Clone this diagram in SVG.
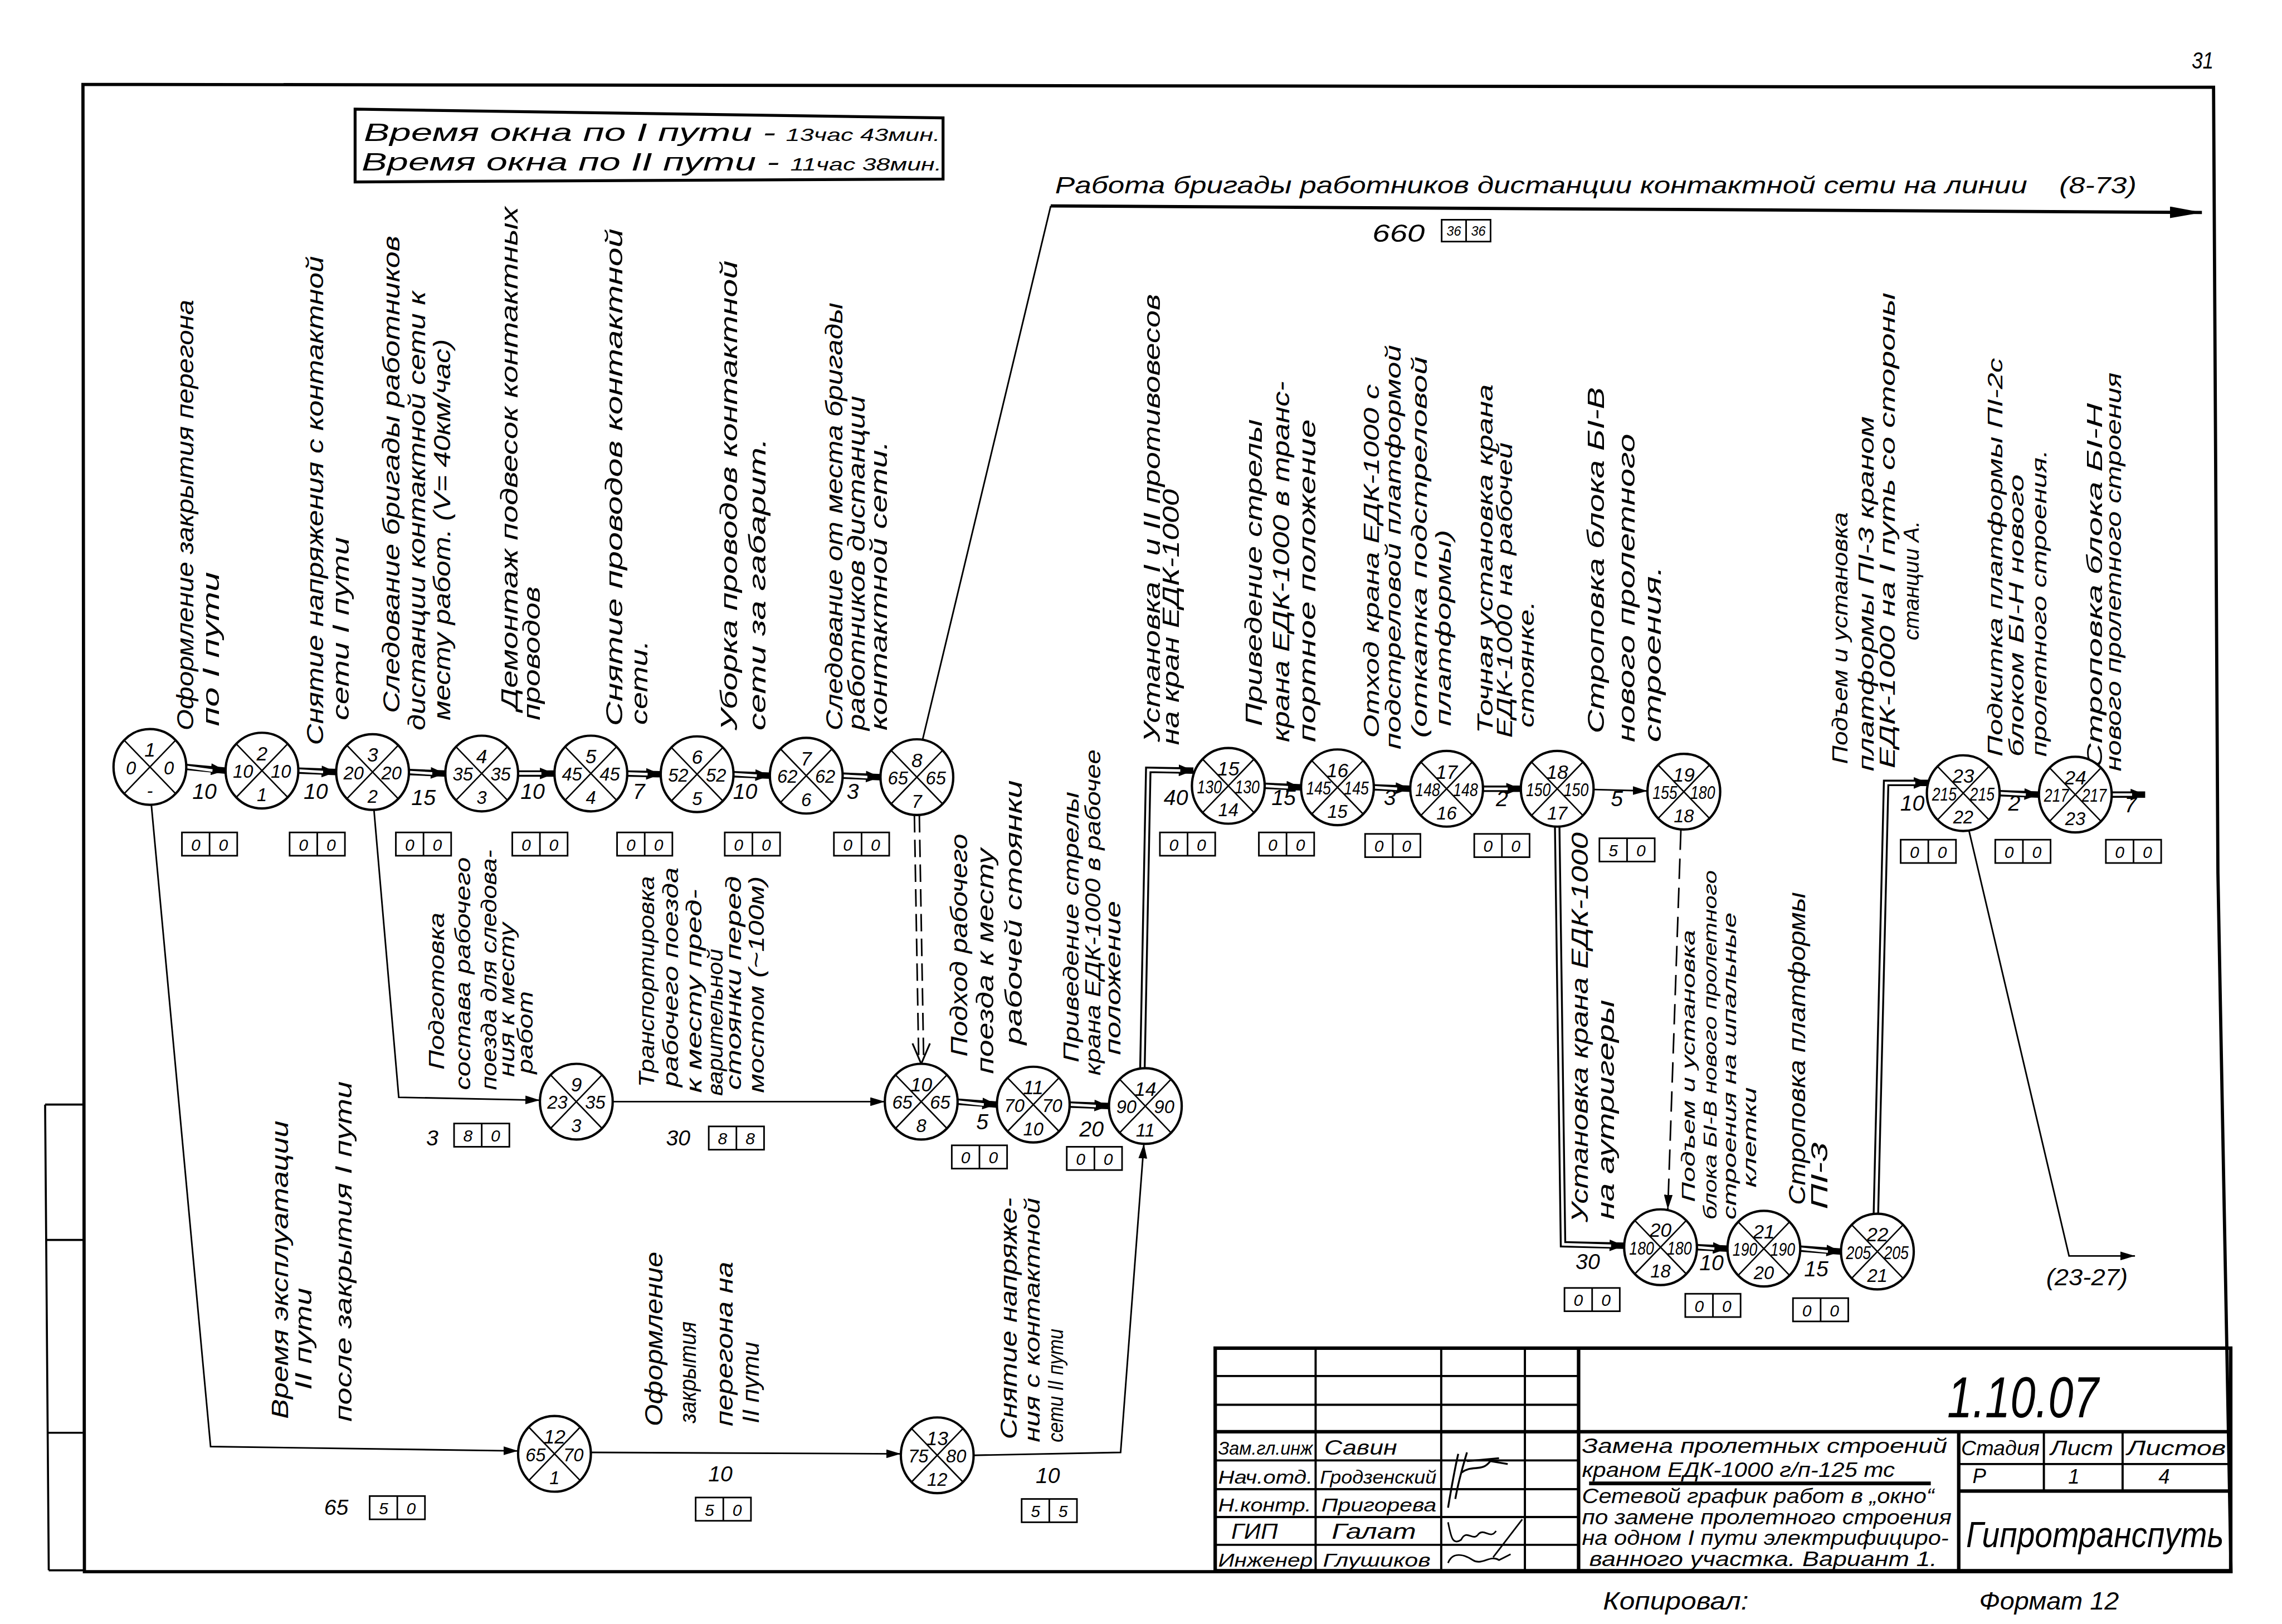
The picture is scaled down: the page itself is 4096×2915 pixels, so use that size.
<svg xmlns="http://www.w3.org/2000/svg" width="4096" height="2915" viewBox="0 0 4096 2915">
<style>
.t{font-family:'Liberation Sans',Arial,sans-serif;font-style:italic;fill:#000}
.s17{font-size:17px}.s16{font-size:16px}.s15{font-size:15px}.s14{font-size:14px}.s13{font-size:13px}.s12{font-size:12px}
.nn{font-size:12.5px;text-anchor:middle}
.nt{font-size:13.5px;text-anchor:middle}
.du{font-size:15px;text-anchor:middle}
.ln{fill:none;stroke:#000;stroke-width:1.1}
.dbo{fill:none;stroke:#000;stroke-width:4.4;stroke-linejoin:miter}
.dbi{fill:none;stroke:#fff;stroke-width:1.8;stroke-linejoin:miter}
.fr{fill:none;stroke:#000;stroke-width:2.2}
.tb{fill:none;stroke:#000;stroke-width:1.5}
.tbk{fill:none;stroke:#000;stroke-width:2.4}
</style>
<defs>
<marker id="ah" viewBox="0 0 10 6" refX="10" refY="3" markerWidth="10" markerHeight="6" markerUnits="userSpaceOnUse" orient="auto"><path d="M0,0 L10,3 L0,6 Z" fill="#000"/></marker>
<marker id="ahd" viewBox="0 0 10 8" refX="10" refY="4" markerWidth="11" markerHeight="8" markerUnits="userSpaceOnUse" orient="auto"><path d="M0,0 L10,4 L0,8 Z" fill="#000"/></marker>
<marker id="ahb" viewBox="0 0 22 8" refX="22" refY="4" markerWidth="22" markerHeight="8" markerUnits="userSpaceOnUse" orient="auto"><path d="M0,0 L22,4 L0,8 Z" fill="#000"/></marker>
<g id="ns"><ellipse rx="25" ry="26" fill="#fff" stroke="#000" stroke-width="1.6"/><path d="M-17.7,-18.4L17.7,18.4M17.7,-18.4L-17.7,18.4" stroke="#000" stroke-width="1" fill="none"/></g>
<g id="bx"><rect width="38" height="16" fill="#fff" stroke="#000" stroke-width="1.1"/><path d="M19,0V16" stroke="#000" stroke-width="1.1"/></g>
<g id="b00"><use href="#bx"/><text x="9.5" y="12.5" font-family="'Liberation Sans',Arial,sans-serif" font-style="italic" font-size="11.5" text-anchor="middle">0</text><text x="28.5" y="12.5" font-family="'Liberation Sans',Arial,sans-serif" font-style="italic" font-size="11.5" text-anchor="middle">0</text></g>
</defs>
<rect width="4096" height="2915" fill="#fff"/>
<g transform="scale(2.6122)">

<g id="frame">
<path class="fr" d="M57,58 L1521,60 L1524,600 L1533,1080 L58,1080 Z"/>
<path d="M31,759 H57 M31,759 L33.5,1079 M31.5,852 H57 M32.5,984.5 H57 M33.5,1079 H58" fill="none" stroke="#000" stroke-width="1.4"/>
<text class="t s16" x="1506" y="47" textLength="15" lengthAdjust="spacingAndGlyphs">31</text>
</g>

<g id="window-box">
<path d="M244,75 L648,81 L648,123 L244,125 Z" fill="none" stroke="#000" stroke-width="2"/>
<text class="t s17" x="250" y="97" textLength="283" lengthAdjust="spacingAndGlyphs">Время  окна  по  I  пути  -</text>
<text class="t s12" x="540" y="97" textLength="106" lengthAdjust="spacingAndGlyphs">13час 43мин.</text>
<text class="t s17" x="248.5" y="117" textLength="287" lengthAdjust="spacingAndGlyphs">Время  окна  по  II  пути  -</text>
<text class="t s12" x="543" y="117" textLength="104" lengthAdjust="spacingAndGlyphs">11час 38мин.</text>
</g>

<g id="connectors">
<path class="dbo" marker-end="url(#ahd)" d="M128,527 L155,529.5"/><path class="dbi" d="M128,527 L146,529.5"/>
<path class="dbo" marker-end="url(#ahd)" d="M205,529.5 L231,530.5"/><path class="dbi" d="M205,529.5 L222,530.5"/>
<path class="dbo" marker-end="url(#ahd)" d="M281,530.5 L306,531.5"/><path class="dbi" d="M281,530.5 L297,531.5"/>
<path class="dbo" marker-end="url(#ahd)" d="M356,531.5 L381,531.5"/><path class="dbi" d="M356,531.5 L372,531.5"/>
<path class="dbo" marker-end="url(#ahd)" d="M431,531.5 L454,532"/><path class="dbi" d="M431,531.5 L445,532"/>
<path class="dbo" marker-end="url(#ahd)" d="M504,532 L529,533"/><path class="dbi" d="M504,532 L520,533"/>
<path class="dbo" marker-end="url(#ahd)" d="M579,533 L605,534"/><path class="dbi" d="M579,533 L596,534"/>
<path class="dbo" marker-end="url(#ahd)" d="M658,757 L685,759"/><path class="dbi" d="M658,757 L676,759"/>
<path class="dbo" marker-end="url(#ahd)" d="M735,759 L762,760"/><path class="dbi" d="M735,759 L753,760"/>
<path class="dbo" marker-end="url(#ahd)" d="M785,734 L789,529 L820,529.5"/><path class="dbi" d="M785,734 L789,529 L811,529.5"/>
<path class="dbo" marker-end="url(#ahd)" d="M869,540 L894,541"/><path class="dbi" d="M869,540 L885,541"/>
<path class="dbo" marker-end="url(#ahd)" d="M944,541 L969,542"/><path class="dbi" d="M944,541 L960,542"/>
<path class="dbo" marker-end="url(#ahd)" d="M1019,542 L1045,542"/><path class="dbi" d="M1019,542 L1036,542"/>
<path class="dbo" marker-end="url(#ahd)" d="M1070,568 L1074,855 L1116,856"/><path class="dbi" d="M1070,568 L1074,855 L1107,856"/>
<path class="dbo" marker-end="url(#ahd)" d="M1166,857 L1187,858"/><path class="dbi" d="M1166,857 L1178,858"/>
<path class="dbo" marker-end="url(#ahd)" d="M1237,858 L1265,860"/><path class="dbi" d="M1237,858 L1256,860"/>
<path class="dbo" marker-end="url(#ahd)" d="M1289,834 L1296,538 L1325,538"/><path class="dbi" d="M1289,834 L1296,538 L1316,538"/>
<path class="dbo" marker-end="url(#ahd)" d="M1374,545 L1401,546"/><path class="dbi" d="M1374,545 L1392,546"/>
<path class="dbo" marker-end="url(#ahd)" d="M1451,546 L1474,546"/><path class="dbi" d="M1451,546 L1465,546"/>
<path d="M628.3,560 L631.3,729 M631.7,560 L634.7,729" fill="none" stroke="#000" stroke-width="1.1" stroke-dasharray="12 5"/>
<path d="M627,717 L633,731 L639,717" fill="none" stroke="#000" stroke-width="1.2"/>
<path class="ln" marker-end="url(#ah)" d="M104,553 L144.7,994 L356,997"/>
<path class="ln" marker-end="url(#ah)" d="M257,557 L274,754 L371,756"/>
<path class="ln" marker-end="url(#ah)" d="M421,757 L608,757"/>
<path class="ln" marker-end="url(#ah)" d="M406,998 L619,999"/>
<path class="ln" marker-end="url(#ah)" d="M669,1000 L770,998 L786,786"/>
<path class="ln" marker-end="url(#ah)" d="M1095,542.5 L1132,543.5"/>
<path class="ln" marker-end="url(#ah)" stroke-dasharray="14 6" d="M1155,570 L1146,831"/>
<path class="ln" marker-end="url(#ah)" d="M1353,571 L1421.7,863 L1467,863"/>
<path class="ln" d="M634,508 L722,141.5"/>
<path fill="none" stroke="#000" stroke-width="2.2" marker-end="url(#ahb)" d="M722,141.5 L1513,146"/>
</g>

<g id="edge-labels">
<text class="t s16" x="725" y="133" textLength="668" lengthAdjust="spacingAndGlyphs">Работа бригады работников дистанции контактной сети на линии</text>
<text class="t s16" x="1415" y="133" textLength="53" lengthAdjust="spacingAndGlyphs">(8-73)</text>
<text class="t s17" x="943" y="166" textLength="36" lengthAdjust="spacingAndGlyphs">660</text>
<g transform="translate(990.6,151)"><rect width="33.6" height="15" fill="#fff" stroke="#000" stroke-width="1.1"/><path d="M16.8,0V15" stroke="#000" stroke-width="1.1"/><text class="t" font-size="9" x="8.4" y="11" text-anchor="middle">36</text><text class="t" font-size="9" x="25.2" y="11" text-anchor="middle">36</text></g>
<text class="t s16" x="1406" y="883" textLength="56" lengthAdjust="spacingAndGlyphs">(23-27)</text>
<text class="t du" x="140.5" y="549">10</text>
<text class="t du" x="217" y="549">10</text>
<text class="t du" x="291" y="553">15</text>
<text class="t du" x="366" y="549">10</text>
<text class="t du" x="439" y="549">7</text>
<text class="t du" x="512" y="549">10</text>
<text class="t du" x="586" y="549">3</text>
<text class="t du" x="808" y="553">40</text>
<text class="t du" x="882" y="553">15</text>
<text class="t du" x="955" y="553">3</text>
<text class="t du" x="1032" y="554">2</text>
<text class="t du" x="1111" y="554">5</text>
<text class="t du" x="1314" y="557">10</text>
<text class="t du" x="1384" y="557">2</text>
<text class="t du" x="1464" y="558">7</text>
<text class="t du" x="297" y="787">3</text>
<text class="t du" x="466" y="787">30</text>
<text class="t du" x="675" y="776">5</text>
<text class="t du" x="750" y="781">20</text>
<text class="t du" x="231" y="1041">65</text>
<text class="t du" x="495" y="1018">10</text>
<text class="t du" x="720" y="1019">10</text>
<text class="t du" x="1091" y="872">30</text>
<text class="t du" x="1176" y="873">10</text>
<text class="t du" x="1248" y="877">15</text>
<use href="#b00" x="125" y="572"/>
<use href="#b00" x="199" y="572"/>
<use href="#b00" x="272" y="572"/>
<use href="#b00" x="352" y="572"/>
<use href="#b00" x="424" y="572"/>
<use href="#b00" x="498" y="572"/>
<use href="#b00" x="573" y="572"/>
<use href="#b00" x="797" y="572"/>
<use href="#b00" x="865" y="572"/>
<use href="#b00" x="938" y="573"/>
<use href="#b00" x="1013" y="573"/>
<g transform="translate(1099,576)"><use href="#bx"/><text class="t" font-size="11.5" x="9.5" y="12.5" text-anchor="middle">5</text><text class="t" font-size="11.5" x="28.5" y="12.5" text-anchor="middle">0</text></g>
<use href="#b00" x="1306" y="577"/>
<use href="#b00" x="1371" y="577"/>
<use href="#b00" x="1447" y="577"/>
<g transform="translate(312,772)"><use href="#bx"/><text class="t" font-size="11.5" x="9.5" y="12.5" text-anchor="middle">8</text><text class="t" font-size="11.5" x="28.5" y="12.5" text-anchor="middle">0</text></g>
<g transform="translate(487,774)"><use href="#bx"/><text class="t" font-size="11.5" x="9.5" y="12.5" text-anchor="middle">8</text><text class="t" font-size="11.5" x="28.5" y="12.5" text-anchor="middle">8</text></g>
<use href="#b00" x="654" y="787"/>
<use href="#b00" x="733" y="788"/>
<g transform="translate(254,1028)"><use href="#bx"/><text class="t" font-size="11.5" x="9.5" y="12.5" text-anchor="middle">5</text><text class="t" font-size="11.5" x="28.5" y="12.5" text-anchor="middle">0</text></g>
<g transform="translate(478,1029)"><use href="#bx"/><text class="t" font-size="11.5" x="9.5" y="12.5" text-anchor="middle">5</text><text class="t" font-size="11.5" x="28.5" y="12.5" text-anchor="middle">0</text></g>
<g transform="translate(702,1030)"><use href="#bx"/><text class="t" font-size="11.5" x="9.5" y="12.5" text-anchor="middle">5</text><text class="t" font-size="11.5" x="28.5" y="12.5" text-anchor="middle">5</text></g>
<use href="#b00" x="1075" y="885"/>
<use href="#b00" x="1158" y="889"/>
<use href="#b00" x="1232" y="892"/>
</g>

<g id="activity-labels">
<text class="t s16" transform="translate(133,502) rotate(-90)" textLength="296" lengthAdjust="spacingAndGlyphs">Оформление закрытия перегона</text>
<text class="t s16" transform="translate(150.5,499) rotate(-90)" textLength="106" lengthAdjust="spacingAndGlyphs">по I пути</text>
<text class="t s16" transform="translate(222,512) rotate(-90)" textLength="336" lengthAdjust="spacingAndGlyphs">Снятие напряжения с контактной</text>
<text class="t s16" transform="translate(239.5,495) rotate(-90)" textLength="126" lengthAdjust="spacingAndGlyphs">сети I пути</text>
<text class="t s16" transform="translate(274.5,490) rotate(-90)" textLength="328" lengthAdjust="spacingAndGlyphs">Следование бригады работников</text>
<text class="t s16" transform="translate(292,502) rotate(-90)" textLength="302" lengthAdjust="spacingAndGlyphs">дистанции контактной сети к</text>
<text class="t s16" transform="translate(309.5,495) rotate(-90)" textLength="262" lengthAdjust="spacingAndGlyphs">месту работ. (V= 40км/час)</text>
<text class="t s16" transform="translate(355.5,488) rotate(-90)" textLength="346" lengthAdjust="spacingAndGlyphs">Демонтаж подвесок контактных</text>
<text class="t s16" transform="translate(371,495) rotate(-90)" textLength="92" lengthAdjust="spacingAndGlyphs">проводов</text>
<text class="t s16" transform="translate(427.5,499) rotate(-90)" textLength="342" lengthAdjust="spacingAndGlyphs">Снятие проводов контактной</text>
<text class="t s16" transform="translate(445,498) rotate(-90)" textLength="58" lengthAdjust="spacingAndGlyphs">сети.</text>
<text class="t s16" transform="translate(506.5,502) rotate(-90)" textLength="323" lengthAdjust="spacingAndGlyphs">Уборка проводов контактной</text>
<text class="t s16" transform="translate(526,502) rotate(-90)" textLength="201" lengthAdjust="spacingAndGlyphs">сети за габарит.</text>
<text class="t s16" transform="translate(579,502) rotate(-90)" textLength="294" lengthAdjust="spacingAndGlyphs">Следование от места бригады</text>
<text class="t s16" transform="translate(594,502) rotate(-90)" textLength="230" lengthAdjust="spacingAndGlyphs">работников дистанции</text>
<text class="t s16" transform="translate(609.5,502) rotate(-90)" textLength="199" lengthAdjust="spacingAndGlyphs">контактной сети.</text>

<text class="t s16" transform="translate(797,510) rotate(-90)" textLength="308" lengthAdjust="spacingAndGlyphs">Установка I и II противовесов</text>
<text class="t s16" transform="translate(810,512) rotate(-90)" textLength="176" lengthAdjust="spacingAndGlyphs">на кран ЕДК-1000</text>
<text class="t s16" transform="translate(867,499) rotate(-90)" textLength="211" lengthAdjust="spacingAndGlyphs">Приведение стрелы</text>
<text class="t s16" transform="translate(886,510) rotate(-90)" textLength="248" lengthAdjust="spacingAndGlyphs">крана ЕДК-1000 в транс-</text>
<text class="t s16" transform="translate(904,510) rotate(-90)" textLength="222" lengthAdjust="spacingAndGlyphs">портное положение</text>
<text class="t s15" transform="translate(947.5,507) rotate(-90)" textLength="243" lengthAdjust="spacingAndGlyphs">Отход крана ЕДК-1000 с</text>
<text class="t s15" transform="translate(962.5,515) rotate(-90)" textLength="278" lengthAdjust="spacingAndGlyphs">подстреловой платформой</text>
<text class="t s15" transform="translate(980.5,507) rotate(-90)" textLength="262" lengthAdjust="spacingAndGlyphs">(откатка подстреловой</text>
<text class="t s15" transform="translate(997,499) rotate(-90)" textLength="135" lengthAdjust="spacingAndGlyphs">платформы)</text>
<text class="t s15" transform="translate(1025.5,504) rotate(-90)" textLength="240" lengthAdjust="spacingAndGlyphs">Точная установка крана</text>
<text class="t s15" transform="translate(1039,507) rotate(-90)" textLength="203" lengthAdjust="spacingAndGlyphs">ЕДК-1000 на рабочей</text>
<text class="t s15" transform="translate(1054,500) rotate(-90)" textLength="87" lengthAdjust="spacingAndGlyphs">стоянке.</text>
<text class="t s16" transform="translate(1102,504) rotate(-90)" textLength="238" lengthAdjust="spacingAndGlyphs">Строповка блока БI-В</text>
<text class="t s16" transform="translate(1123,510) rotate(-90)" textLength="212" lengthAdjust="spacingAndGlyphs">нового пролетного</text>
<text class="t s16" transform="translate(1141,510) rotate(-90)" textLength="121" lengthAdjust="spacingAndGlyphs">строения.</text>
<text class="t s15" transform="translate(1269.5,525) rotate(-90)" textLength="173" lengthAdjust="spacingAndGlyphs">Подъем и установка</text>
<text class="t s15" transform="translate(1287.5,530) rotate(-90)" textLength="244" lengthAdjust="spacingAndGlyphs">платформы ПI-3 краном</text>
<text class="t s15" transform="translate(1302,528) rotate(-90)" textLength="327" lengthAdjust="spacingAndGlyphs">ЕДК-1000 на I путь со стороны</text>
<text class="t s15" transform="translate(1318.5,440) rotate(-90)" textLength="82" lengthAdjust="spacingAndGlyphs">станции А.</text>
<text class="t s14" transform="translate(1376,520) rotate(-90)" textLength="274" lengthAdjust="spacingAndGlyphs">Подкитка платформы ПI-2с</text>
<text class="t s14" transform="translate(1390.5,520) rotate(-90)" textLength="194" lengthAdjust="spacingAndGlyphs">блоком БI-Н нового</text>
<text class="t s14" transform="translate(1406,520) rotate(-90)" textLength="211" lengthAdjust="spacingAndGlyphs">пролетного строения.</text>
<text class="t s15" transform="translate(1444.5,528) rotate(-90)" textLength="251" lengthAdjust="spacingAndGlyphs">Строповка блока БI-Н</text>
<text class="t s15" transform="translate(1457.5,530) rotate(-90)" textLength="274" lengthAdjust="spacingAndGlyphs">нового пролетного строения</text>

<text class="t s15" transform="translate(305,735) rotate(-90)" textLength="108" lengthAdjust="spacingAndGlyphs">Подготовка</text>
<text class="t s15" transform="translate(323,749) rotate(-90)" textLength="160" lengthAdjust="spacingAndGlyphs">состава рабочего</text>
<text class="t s15" transform="translate(341,749) rotate(-90)" textLength="165" lengthAdjust="spacingAndGlyphs">поезда для следова-</text>
<text class="t s15" transform="translate(353.5,740) rotate(-90)" textLength="106" lengthAdjust="spacingAndGlyphs">ния к месту</text>
<text class="t s15" transform="translate(366,738) rotate(-90)" textLength="57" lengthAdjust="spacingAndGlyphs">работ</text>
<text class="t s15" transform="translate(449.5,747) rotate(-90)" textLength="145" lengthAdjust="spacingAndGlyphs">Транспортировка</text>
<text class="t s15" transform="translate(466,747) rotate(-90)" textLength="151" lengthAdjust="spacingAndGlyphs">рабочего поезда</text>
<text class="t s15" transform="translate(482,751) rotate(-90)" textLength="140" lengthAdjust="spacingAndGlyphs">к месту пред-</text>
<text class="t s15" transform="translate(496.5,753) rotate(-90)" textLength="101" lengthAdjust="spacingAndGlyphs">варительной</text>
<text class="t s15" transform="translate(509,749) rotate(-90)" textLength="147" lengthAdjust="spacingAndGlyphs">стоянки перед</text>
<text class="t s15" transform="translate(525,751) rotate(-90)" textLength="149" lengthAdjust="spacingAndGlyphs">мостом (~100м)</text>
<text class="t s16" transform="translate(664.5,726) rotate(-90)" textLength="153" lengthAdjust="spacingAndGlyphs">Подход рабочего</text>
<text class="t s16" transform="translate(682.5,738) rotate(-90)" textLength="155" lengthAdjust="spacingAndGlyphs">поезда к месту</text>
<text class="t s16" transform="translate(702,718) rotate(-90)" textLength="182" lengthAdjust="spacingAndGlyphs">рабочей стоянки</text>
<text class="t s15" transform="translate(741,730) rotate(-90)" textLength="186" lengthAdjust="spacingAndGlyphs">Приведение стрелы</text>
<text class="t s15" transform="translate(756,739) rotate(-90)" textLength="224" lengthAdjust="spacingAndGlyphs">крана ЕДК-1000 в рабочее</text>
<text class="t s15" transform="translate(770,725) rotate(-90)" textLength="106" lengthAdjust="spacingAndGlyphs">положение</text>

<text class="t s16" transform="translate(198,975) rotate(-90)" textLength="205" lengthAdjust="spacingAndGlyphs">Время эксплуатации</text>
<text class="t s16" transform="translate(214,955) rotate(-90)" textLength="70" lengthAdjust="spacingAndGlyphs">II пути</text>
<text class="t s16" transform="translate(241.5,977) rotate(-90)" textLength="234" lengthAdjust="spacingAndGlyphs">после закрытия I пути</text>
<text class="t s17" transform="translate(455,980) rotate(-90)" textLength="120" lengthAdjust="spacingAndGlyphs">Оформление</text>
<text class="t s16" transform="translate(478,978) rotate(-90)" textLength="70" lengthAdjust="spacingAndGlyphs">закрытия</text>
<text class="t s16" transform="translate(503.5,980) rotate(-90)" textLength="113" lengthAdjust="spacingAndGlyphs">перегона на</text>
<text class="t s16" transform="translate(521.5,978) rotate(-90)" textLength="56" lengthAdjust="spacingAndGlyphs">II пути</text>
<text class="t s16" transform="translate(698.5,989) rotate(-90)" textLength="166" lengthAdjust="spacingAndGlyphs">Снятие напряже-</text>
<text class="t s15" transform="translate(714.5,991) rotate(-90)" textLength="168" lengthAdjust="spacingAndGlyphs">ния с контактной</text>
<text class="t s15" transform="translate(730.5,991) rotate(-90)" textLength="78" lengthAdjust="spacingAndGlyphs">сети II пути</text>

<text class="t s16" transform="translate(1091,840) rotate(-90)" textLength="268" lengthAdjust="spacingAndGlyphs">Установка крана ЕДК-1000</text>
<text class="t s16" transform="translate(1109,838) rotate(-90)" textLength="151" lengthAdjust="spacingAndGlyphs">на аутригеры</text>
<text class="t s13" transform="translate(1164.5,826) rotate(-90)" textLength="187" lengthAdjust="spacingAndGlyphs">Подъем и установка</text>
<text class="t s13" transform="translate(1179.5,838) rotate(-90)" textLength="240" lengthAdjust="spacingAndGlyphs">блока БI-В нового пролетного</text>
<text class="t s13" transform="translate(1193,838) rotate(-90)" textLength="211" lengthAdjust="spacingAndGlyphs">строения на шпальные</text>
<text class="t s13" transform="translate(1206.5,816) rotate(-90)" textLength="69" lengthAdjust="spacingAndGlyphs">клетки</text>
<text class="t s16" transform="translate(1240.5,828) rotate(-90)" textLength="215" lengthAdjust="spacingAndGlyphs">Строповка платформы</text>
<text class="t s16" transform="translate(1255.5,831) rotate(-90)" textLength="46" lengthAdjust="spacingAndGlyphs">ПI-3</text>
</g>

<g id="nodes">
<g id="n1" transform="translate(103,527)"><use href="#ns"/><text class="t nt" y="-7">1</text><text class="t nn" x="-13" y="5">0</text><text class="t nn" x="13" y="5">0</text><text class="t nn" y="21">-</text></g>
<g id="n2" transform="translate(180,529.5)"><use href="#ns"/><text class="t nt" y="-7">2</text><text class="t nn" x="-13" y="5">10</text><text class="t nn" x="13" y="5">10</text><text class="t nn" y="21">1</text></g>
<g id="n3" transform="translate(256,530.5)"><use href="#ns"/><text class="t nt" y="-7">3</text><text class="t nn" x="-13" y="5">20</text><text class="t nn" x="13" y="5">20</text><text class="t nn" y="21">2</text></g>
<g id="n4" transform="translate(331,531.5)"><use href="#ns"/><text class="t nt" y="-7">4</text><text class="t nn" x="-13" y="5">35</text><text class="t nn" x="13" y="5">35</text><text class="t nn" y="21">3</text></g>
<g id="n5" transform="translate(406,531.5)"><use href="#ns"/><text class="t nt" y="-7">5</text><text class="t nn" x="-13" y="5">45</text><text class="t nn" x="13" y="5">45</text><text class="t nn" y="21">4</text></g>
<g id="n6" transform="translate(479,532)"><use href="#ns"/><text class="t nt" y="-7">6</text><text class="t nn" x="-13" y="5">52</text><text class="t nn" x="13" y="5">52</text><text class="t nn" y="21">5</text></g>
<g id="n7" transform="translate(554,533)"><use href="#ns"/><text class="t nt" y="-7">7</text><text class="t nn" x="-13" y="5">62</text><text class="t nn" x="13" y="5">62</text><text class="t nn" y="21">6</text></g>
<g id="n8" transform="translate(630,534)"><use href="#ns"/><text class="t nt" y="-7">8</text><text class="t nn" x="-13" y="5">65</text><text class="t nn" x="13" y="5">65</text><text class="t nn" y="21">7</text></g>
<g id="n9" transform="translate(396,757)"><use href="#ns"/><text class="t nt" y="-7">9</text><text class="t nn" x="-13" y="5">23</text><text class="t nn" x="13" y="5">35</text><text class="t nn" y="21">3</text></g>
<g id="n10" transform="translate(633,757)"><use href="#ns"/><text class="t nt" y="-7">10</text><text class="t nn" x="-13" y="5">65</text><text class="t nn" x="13" y="5">65</text><text class="t nn" y="21">8</text></g>
<g id="n11" transform="translate(710,759)"><use href="#ns"/><text class="t nt" y="-7">11</text><text class="t nn" x="-13" y="5">70</text><text class="t nn" x="13" y="5">70</text><text class="t nn" y="21">10</text></g>
<g id="n12" transform="translate(381,999)"><use href="#ns"/><text class="t nt" y="-7">12</text><text class="t nn" x="-13" y="5">65</text><text class="t nn" x="13" y="5">70</text><text class="t nn" y="21">1</text></g>
<g id="n13" transform="translate(644,1000)"><use href="#ns"/><text class="t nt" y="-7">13</text><text class="t nn" x="-13" y="5">75</text><text class="t nn" x="13" y="5">80</text><text class="t nn" y="21">12</text></g>
<g id="n14" transform="translate(787,760)"><use href="#ns"/><text class="t nt" y="-7">14</text><text class="t nn" x="-13" y="5">90</text><text class="t nn" x="13" y="5">90</text><text class="t nn" y="21">11</text></g>
<g id="n15" transform="translate(844,540)"><use href="#ns"/><text class="t nt" y="-7">15</text><text class="t nn" x="-13" y="5" textLength="17" lengthAdjust="spacingAndGlyphs">130</text><text class="t nn" x="13" y="5" textLength="17" lengthAdjust="spacingAndGlyphs">130</text><text class="t nn" y="21">14</text></g>
<g id="n16" transform="translate(919,541)"><use href="#ns"/><text class="t nt" y="-7">16</text><text class="t nn" x="-13" y="5" textLength="17" lengthAdjust="spacingAndGlyphs">145</text><text class="t nn" x="13" y="5" textLength="17" lengthAdjust="spacingAndGlyphs">145</text><text class="t nn" y="21">15</text></g>
<g id="n17" transform="translate(994,542)"><use href="#ns"/><text class="t nt" y="-7">17</text><text class="t nn" x="-13" y="5" textLength="17" lengthAdjust="spacingAndGlyphs">148</text><text class="t nn" x="13" y="5" textLength="17" lengthAdjust="spacingAndGlyphs">148</text><text class="t nn" y="21">16</text></g>
<g id="n18" transform="translate(1070,542)"><use href="#ns"/><text class="t nt" y="-7">18</text><text class="t nn" x="-13" y="5" textLength="17" lengthAdjust="spacingAndGlyphs">150</text><text class="t nn" x="13" y="5" textLength="17" lengthAdjust="spacingAndGlyphs">150</text><text class="t nn" y="21">17</text></g>
<g id="n19" transform="translate(1157,544)"><use href="#ns"/><text class="t nt" y="-7">19</text><text class="t nn" x="-13" y="5" textLength="17" lengthAdjust="spacingAndGlyphs">155</text><text class="t nn" x="13" y="5" textLength="17" lengthAdjust="spacingAndGlyphs">180</text><text class="t nn" y="21">18</text></g>
<g id="n20" transform="translate(1141,857)"><use href="#ns"/><text class="t nt" y="-7">20</text><text class="t nn" x="-13" y="5" textLength="17" lengthAdjust="spacingAndGlyphs">180</text><text class="t nn" x="13" y="5" textLength="17" lengthAdjust="spacingAndGlyphs">180</text><text class="t nn" y="21">18</text></g>
<g id="n21" transform="translate(1212,858)"><use href="#ns"/><text class="t nt" y="-7">21</text><text class="t nn" x="-13" y="5" textLength="17" lengthAdjust="spacingAndGlyphs">190</text><text class="t nn" x="13" y="5" textLength="17" lengthAdjust="spacingAndGlyphs">190</text><text class="t nn" y="21">20</text></g>
<g id="n22" transform="translate(1290,860)"><use href="#ns"/><text class="t nt" y="-7">22</text><text class="t nn" x="-13" y="5" textLength="17" lengthAdjust="spacingAndGlyphs">205</text><text class="t nn" x="13" y="5" textLength="17" lengthAdjust="spacingAndGlyphs">205</text><text class="t nn" y="21">21</text></g>
<g id="n23" transform="translate(1349,545)"><use href="#ns"/><text class="t nt" y="-7">23</text><text class="t nn" x="-13" y="5" textLength="17" lengthAdjust="spacingAndGlyphs">215</text><text class="t nn" x="13" y="5" textLength="17" lengthAdjust="spacingAndGlyphs">215</text><text class="t nn" y="21">22</text></g>
<g id="n24" transform="translate(1426,546)"><use href="#ns"/><text class="t nt" y="-7">24</text><text class="t nn" x="-13" y="5" textLength="17" lengthAdjust="spacingAndGlyphs">217</text><text class="t nn" x="13" y="5" textLength="17" lengthAdjust="spacingAndGlyphs">217</text><text class="t nn" y="21">23</text></g>
</g>

<g id="title-block">
<path class="tbk" d="M835,926.4 H1532.8 V1079.3 H835 Z"/>
<path class="tb" d="M904,926.4V1079.3 M990.3,926.4V1079.3 M1047.8,926.4V1079.3 M835,945.5H1084.7 M835,965.3H1084.7 M835,1003.5H1084.7 M835,1023.3H1084.7 M835,1042.4H1084.7 M835,1061.5H1084.7 M1404.4,983.8V1024.6 M1458.5,983.8V1024.6 M1345.9,1006H1532.8"/>
<path class="tbk" d="M1084.7,926.4V1079.3 M835,983.8H1532.8 M1345.9,983.8V1079.3 M1345.9,1024.6H1532.8"/>
<path d="M1091.9,1019.3H1326.7" stroke="#000" stroke-width="2.6"/>
<text class="t s13" x="837" y="999.5" textLength="65" lengthAdjust="spacingAndGlyphs">Зам.гл.инж</text>
<text class="t s14" x="910" y="999.5" textLength="50" lengthAdjust="spacingAndGlyphs">Савин</text>
<text class="t s13" x="837" y="1019.5" textLength="65" lengthAdjust="spacingAndGlyphs">Нач.отд.</text>
<text class="t s13" x="907" y="1019.5" textLength="80" lengthAdjust="spacingAndGlyphs">Гродзенский</text>
<text class="t s13" x="837" y="1038.5" textLength="64" lengthAdjust="spacingAndGlyphs">Н.контр.</text>
<text class="t s13" x="908" y="1038.5" textLength="79" lengthAdjust="spacingAndGlyphs">Пригорева</text>
<text class="t s15" x="846" y="1057.5" textLength="32" lengthAdjust="spacingAndGlyphs">ГИП</text>
<text class="t s15" x="915" y="1057.5" textLength="58" lengthAdjust="spacingAndGlyphs">Галат</text>
<text class="t s13" x="837" y="1076.5" textLength="65" lengthAdjust="spacingAndGlyphs">Инженер</text>
<text class="t s13" x="909" y="1076.5" textLength="74" lengthAdjust="spacingAndGlyphs">Глушиков</text>
<path d="M995,1036 C997,1024 999,1012 1002,999 M1000,1030 C1002,1018 1005,1008 1008,998 M1004,1012 C1012,1006 1018,1012 1024,1004 L1036,1006 M1008,1004 L1030,1002" fill="none" stroke="#000" stroke-width="1.3"/>
<path d="M995,1046 C997,1056 998,1062 1004,1058 C1008,1050 1012,1060 1016,1054 C1020,1050 1024,1058 1028,1052 M1046,1044 L1026,1070 M995,1074 C998,1066 1006,1068 1012,1072 C1018,1076 1024,1068 1030,1072 L1038,1068" fill="none" stroke="#000" stroke-width="1.1"/>
<text class="t s14" x="1087" y="998.5" textLength="251" lengthAdjust="spacingAndGlyphs">Замена пролетных строений</text>
<text class="t s14" x="1087" y="1015" textLength="215" lengthAdjust="spacingAndGlyphs">краном ЕДК-1000 г/п-125 тс</text>
<text class="t s14" x="1087" y="1033" textLength="242" lengthAdjust="spacingAndGlyphs">Сетевой график работ в „окно“</text>
<text class="t s14" x="1087" y="1047.5" textLength="254" lengthAdjust="spacingAndGlyphs">по замене пролетного строения</text>
<text class="t s14" x="1087" y="1061.5" textLength="252" lengthAdjust="spacingAndGlyphs">на одном I пути электрифициро-</text>
<text class="t s14" x="1092" y="1076" textLength="239" lengthAdjust="spacingAndGlyphs">ванного участка. Вариант 1.</text>
<text class="t s14" x="1347.5" y="1000" textLength="54" lengthAdjust="spacingAndGlyphs">Стадия</text>
<text class="t s14" x="1409" y="1000" textLength="43" lengthAdjust="spacingAndGlyphs">Лист</text>
<text class="t s14" x="1461.5" y="1000" textLength="68" lengthAdjust="spacingAndGlyphs">Листов</text>
<text class="t s14" x="1360" y="1019" text-anchor="middle">Р</text>
<text class="t s14" x="1425" y="1019.5" text-anchor="middle">1</text>
<text class="t s14" x="1487" y="1019.5" text-anchor="middle">4</text>
<text class="t" font-size="40" x="1338" y="974" textLength="104" lengthAdjust="spacingAndGlyphs">1.10.07</text>
<text class="t" font-size="25" x="1351" y="1063" textLength="177" lengthAdjust="spacingAndGlyphs">Гипротранспуть</text>
</g>
<text class="t s17" x="1101.5" y="1106" textLength="100" lengthAdjust="spacingAndGlyphs">Копировал:</text>
<text class="t s17" x="1360" y="1106" textLength="96" lengthAdjust="spacingAndGlyphs">Формат 12</text>
</g>
</svg>
